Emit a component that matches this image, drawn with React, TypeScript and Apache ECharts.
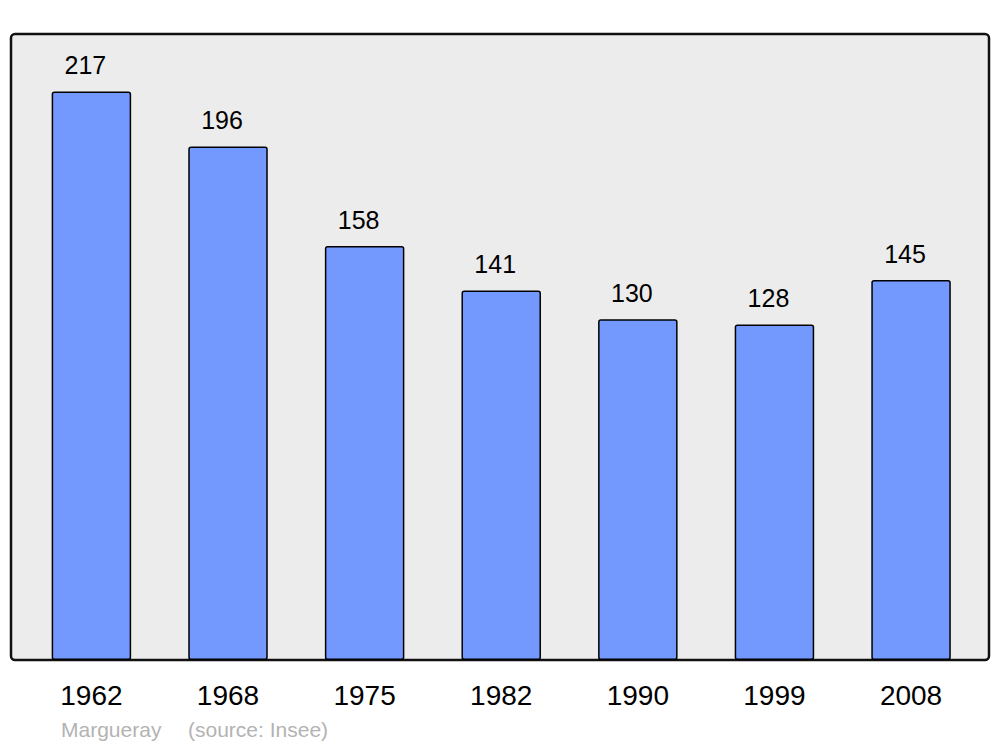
import React, { useEffect, useRef } from "react";
import * as echarts from "echarts";

const years = ["1962", "1968", "1975", "1982", "1990", "1999", "2008"];
const population = [217, 196, 158, 141, 130, 128, 145];
const sourceCommune = "Margueray";
const sourceLabel = "(source: Insee)";

export default function App() {
  const ref = useRef<HTMLDivElement>(null);
  useEffect(() => {
    if (!ref.current) return;
    const chart = echarts.init(ref.current, null, { renderer: "svg" });
    const font = "'Liberation Sans', Arial, sans-serif";
    chart.setOption({
      animation: false,
      backgroundColor: "#ffffff",
      grid: { left: 23.1, right: 20.65, top: 33.5, bottom: 87, containLabel: false },
      xAxis: {
        type: "category",
        data: years,
        axisLine: { show: false },
        axisTick: { show: false },
        axisLabel: { color: "#000", fontSize: 28, fontFamily: font, margin: 21 },
      },
      yAxis: {
        type: "value",
        min: 0,
        max: 239.1,
        show: false,
        splitLine: { show: false },
      },
      graphic: [
        {
          type: "rect",
          z: 0,
          shape: { x: 11, y: 34, width: 978, height: 626, r: 4 },
          style: { fill: "#ececec", stroke: "#111111", lineWidth: 2.5 },
        },
        {
          type: "text",
          left: 61,
          top: 719,
          style: { text: sourceCommune, fill: "#b3b3b3", fontSize: 21, fontFamily: font },
        },
        {
          type: "text",
          left: 188,
          top: 719,
          style: { text: sourceLabel, fill: "#b3b3b3", fontSize: 21, fontFamily: font },
        },
      ],
      series: [
        {
          type: "bar",
          data: population,
          barWidth: 79.5,
          z: 2,
          itemStyle: {
            color: "#7399ff",
            borderColor: "#000",
            borderWidth: 1.5,
            borderRadius: 2,
          },
          label: {
            show: true,
            position: "top",
            distance: 14,
            offset: [-6, 0],
            color: "#000",
            fontSize: 25,
            fontFamily: font,
          },
        },
      ],
    });
    return () => chart.dispose();
  }, []);
  return (
    <div
      ref={ref}
      style={{ position: "absolute", left: 0, top: 0, width: 1000, height: 747 }}
    />
  );
}
